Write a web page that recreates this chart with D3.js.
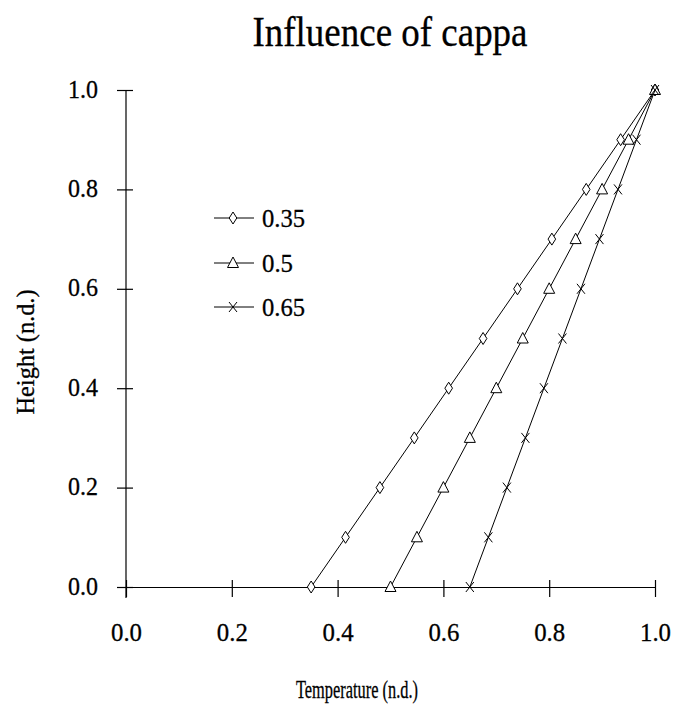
<!DOCTYPE html>
<html>
<head>
<meta charset="utf-8">
<script src="https://cdn.jsdelivr.net/npm/d3@7"></script>
<style>
  body { margin: 0; background: #fff; }
  text { font-family: "Liberation Serif", "Times New Roman", serif; fill: #000; stroke: #000; stroke-width: 0.3; }
</style>
</head>
<body>
<div id="chart"></div>
<script>
// data
const heights = [0, 0.1, 0.2, 0.3, 0.4, 0.5, 0.6, 0.7, 0.8, 0.9, 1.0];
const temp035 = [0.35, 0.415, 0.48, 0.545, 0.61, 0.675, 0.74, 0.805, 0.87, 0.935, 1.0];
const temp050 = [0.5, 0.55, 0.6, 0.65, 0.7, 0.75, 0.8, 0.85, 0.9, 0.95, 1.0];
const temp065 = [0.65, 0.685, 0.72, 0.755, 0.79, 0.825, 0.86, 0.895, 0.93, 0.965, 1.0];
const seriesNames = ["0.35", "0.5", "0.65"];
const markers = ["diamond", "triangle", "cross"];
const tickValues = [0, 0.2, 0.4, 0.6, 0.8, 1.0];

const width = 673, height = 722;
const margin = {left: 126, right: 18, top: 90, bottom: 135};

const svg = d3.select("#chart")
  .append("svg")
  .attr("width", width)
  .attr("height", height);

const x = d3.scaleLinear().domain([0, 1]).range([margin.left, width - margin.right]);
const y = d3.scaleLinear().domain([0, 1]).range([height - margin.bottom, margin.top]);

const fmt = d3.format(".1f");

// axes: ticks cross the axis line
const xAxis = svg.append("g")
  .attr("transform", `translate(0,${y(0)})`)
  .call(d3.axisBottom(x).tickValues(tickValues).tickFormat(fmt)
    .tickSizeInner(10).tickSizeOuter(0).tickPadding(0));
xAxis.selectAll(".tick line").attr("y1", -7);
xAxis.selectAll(".tick text")
  .attr("dy", null).attr("y", 54)
  .attr("font-size", 26).attr("font-family", "Liberation Serif")
  .attr("textLength", 31).attr("lengthAdjust", "spacingAndGlyphs");

const yAxis = svg.append("g")
  .attr("transform", `translate(${x(0)},0)`)
  .call(d3.axisLeft(y).tickValues(tickValues).tickFormat(fmt)
    .tickSizeInner(9).tickSizeOuter(0).tickPadding(19));
yAxis.selectAll(".tick line").attr("x1", 7);
yAxis.selectAll(".tick text")
  .attr("dy", null).attr("y", 7)
  .attr("font-size", 26).attr("font-family", "Liberation Serif")
  .attr("textLength", 30).attr("lengthAdjust", "spacingAndGlyphs");
yAxis.select(".domain").attr("d", `M0,${y(1)}V${y(0) + 11}`);
svg.selectAll(".domain, .tick line").attr("stroke", "#000").attr("stroke-width", 1.2);

// marker shapes
function drawMarker(g, type) {
  if (type === "diamond") {
    g.append("path").attr("d", "M0,-6L3.8,0L0,6L-3.8,0Z")
      .attr("fill", "#fff").attr("stroke", "#000");
  } else if (type === "triangle") {
    g.append("path").attr("d", "M0,-6L5.5,4.5L-5.5,4.5Z")
      .attr("fill", "#fff").attr("stroke", "#000");
  } else {
    g.append("path").attr("d", "M-4,-5L4,5M4,-5L-4,5")
      .attr("stroke", "#000");
  }
}

const series = [temp035, temp050, temp065];
const line = d3.line()
  .x(d => x(d[0]))
  .y(d => y(d[1]));

series.forEach((vals, i) => {
  const pts = vals.map((v, j) => [v, heights[j]]);
  svg.append("path")
    .datum(pts)
    .attr("d", line)
    .attr("fill", "none")
    .attr("stroke", "#000")
    .attr("stroke-width", 1);
  pts.forEach(p => {
    const g = svg.append("g").attr("transform", `translate(${x(p[0])},${y(p[1])})`);
    drawMarker(g, markers[i]);
  });
});

// legend
const legendY = [218, 263, 307];
const legendLen = [43, 31, 43];
seriesNames.forEach((name, i) => {
  const g = svg.append("g").attr("transform", `translate(214,${legendY[i]})`);
  g.append("line").attr("x1", 0).attr("x2", 40).attr("stroke", "#000");
  const m = g.append("g").attr("transform", "translate(19,0)");
  drawMarker(m, markers[i]);
  g.append("text").attr("x", 48).attr("y", 9).attr("font-size", 26)
    .attr("textLength", legendLen[i]).attr("lengthAdjust", "spacingAndGlyphs")
    .text(name);
});

// titles
svg.append("text")
  .attr("x", 390).attr("y", 46)
  .attr("text-anchor", "middle")
  .attr("font-size", 42)
  .attr("textLength", 275).attr("lengthAdjust", "spacingAndGlyphs")
  .text("Influence of cappa");

svg.append("text")
  .attr("x", 357).attr("y", 698)
  .attr("text-anchor", "middle")
  .attr("font-size", 25)
  .attr("textLength", 122).attr("lengthAdjust", "spacingAndGlyphs")
  .text("Temperature (n.d.)");

svg.append("text")
  .attr("transform", "translate(34,352) rotate(-90)")
  .attr("text-anchor", "middle")
  .attr("font-size", 25)
  .attr("textLength", 125).attr("lengthAdjust", "spacingAndGlyphs")
  .text("Height (n.d.)");
</script>
</body>
</html>
